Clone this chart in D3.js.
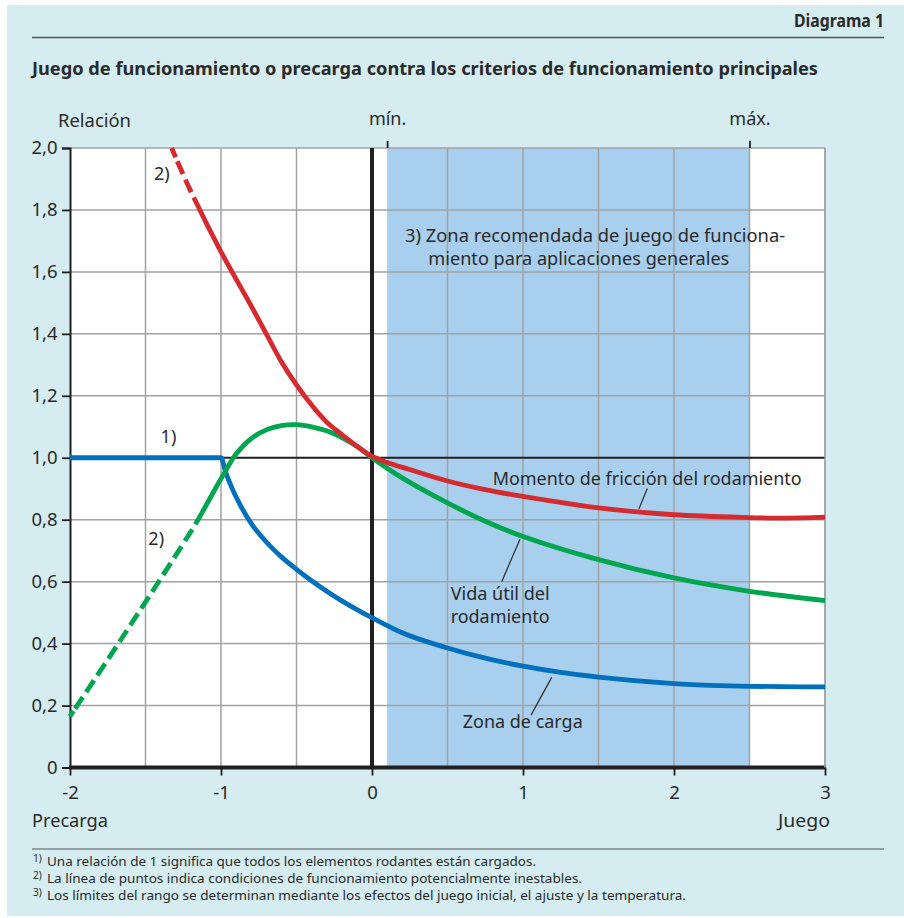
<!DOCTYPE html>
<html><head><meta charset="utf-8">
<script src="https://cdn.jsdelivr.net/npm/d3@7"></script>
<style>
body{margin:0;background:#fff}
svg{display:block}
text{font-family:"Noto Sans",sans-serif;fill:#2a2a2a}
</style>
</head><body><svg id="c" width="904" height="918"></svg>
<script>
// ---------- data ----------
const xTicks = [-2, -1, 0, 1, 2, 3];
const yTicks = [0, 0.2, 0.4, 0.6, 0.8, 1.0, 1.2, 1.4, 1.6, 1.8, 2.0];
const xGrid = [-1.5, -1, -0.5, 0.5, 1, 1.5, 2, 2.5, 3];
const yGrid = [0.2, 0.4, 0.6, 0.8, 1.2, 1.4, 1.6, 1.8, 2.0];
const rangeLimits = [0.1, 2.5];
const rangeLabels = ["mín.", "máx."];

// Momento de fricción del rodamiento (red)
const xFriction = [-1.327, -1.2, -1.0, -0.8, -0.7, -0.6, -0.5, -0.4, -0.3, -0.2, -0.1, 0, 0.1, 0.25, 0.5, 0.75, 1, 1.5, 2, 2.5, 2.75, 3];
const yFriction = [2.0, 1.86, 1.665, 1.49, 1.40, 1.31, 1.235, 1.17, 1.115, 1.075, 1.037, 1.005, 0.985, 0.962, 0.925, 0.897, 0.875, 0.838, 0.816, 0.807, 0.805, 0.808];
const frictionDashEnd = -1.18;

// Vida útil del rodamiento (green)
const xLife = [-2, -1.66, -1.17, -1.1, -1.0, -0.9, -0.8, -0.7, -0.6, -0.5, -0.4, -0.3, -0.2, -0.1, 0, 0.2, 0.5, 0.75, 1, 1.5, 2, 2.5, 3];
const yLife = [0.165, 0.415, 0.785, 0.845, 0.932, 1.012, 1.062, 1.09, 1.104, 1.107, 1.10, 1.087, 1.065, 1.037, 1.0, 0.935, 0.854, 0.795, 0.746, 0.671, 0.612, 0.569, 0.539];
const lifeDashEnd = -1.17;

// Zona de carga (blue)
const xLoad = [-2, -1.5, -1.0, -0.97, -0.93, -0.87, -0.8, -0.7, -0.6, -0.5, -0.4, -0.3, -0.2, -0.1, 0, 0.2, 0.5, 0.75, 1, 1.25, 1.5, 2, 2.5, 3];
const yLoad = [1, 1, 1, 0.955, 0.905, 0.845, 0.788, 0.728, 0.68, 0.64, 0.603, 0.569, 0.538, 0.51, 0.484, 0.435, 0.386, 0.353, 0.327, 0.307, 0.292, 0.271, 0.262, 0.26];

const headerText = "Diagrama 1";
const titleText = "Juego de funcionamiento o precarga contra los criterios de funcionamiento principales";
const yAxisTitle = "Relación";
const xLeftTitle = "Precarga";
const xRightTitle = "Juego";
const zoneLines = ["3) Zona recomendada de juego de funciona-", "miento para aplicaciones generales"];
const frictionLabel = "Momento de fricción del rodamiento";
const lifeLabel = ["Vida útil del", "rodamiento"];
const loadLabel = "Zona de carga";
const footnotes = [
  ["1)", "Una relación de 1 significa que todos los elementos rodantes están cargados."],
  ["2)", "La línea de puntos indica condiciones de funcionamiento potencialmente inestables."],
  ["3)", "Los límites del rango se determinan mediante los efectos del juego inicial, el ajuste y la temperatura."]
];

// ---------- layout ----------
const C = {bg:"#d5ecf1", zone:"#a8cfee", grid:"#a2a2a2", red:"#d42a30", green:"#00a550", blue:"#0070bd", ink:"#2a2a2a", axis:"#231f20"};
const svg = d3.select("#c");
const x = d3.scaleLinear().domain([-2, 3]).range([70, 825]);
const y = d3.scaleLinear().domain([0, 2]).range([767.5, 148]);

svg.append("rect").attr("x", 7).attr("y", 5).attr("width", 897).attr("height", 911).attr("fill", C.bg);

function txt(g, s, px, py, opt = {}) {
  const t = g.append("text").attr("x", px).attr("y", py).text(s)
    .attr("font-size", opt.size || 18)
    .attr("font-weight", opt.weight || "normal")
    .attr("text-anchor", opt.anchor || "start");
  if (opt.len) t.attr("textLength", opt.len).attr("lengthAdjust", "spacingAndGlyphs");
  return t;
}

// header
txt(svg, headerText, 884, 27, {size:17, weight:"bold", anchor:"end", len:90});
svg.append("line").attr("x1", 32).attr("x2", 884).attr("y1", 37.5).attr("y2", 37.5).attr("stroke", "#555").attr("stroke-width", 1.5);
txt(svg, titleText, 32, 75, {size:17, weight:"bold", len:786});

// plot background + zone
svg.append("rect").attr("x", x(-2)).attr("y", y(2)).attr("width", x(3) - x(-2)).attr("height", y(0) - y(2)).attr("fill", "#fff");
svg.append("rect").attr("x", x(rangeLimits[0])).attr("y", y(2)).attr("width", x(rangeLimits[1]) - x(rangeLimits[0])).attr("height", y(0) - y(2)).attr("fill", C.zone);

// grid
const grid = svg.append("g");
grid.selectAll(".vg").data(xGrid).join("line").attr("x1", d => x(d)).attr("x2", d => x(d)).attr("y1", y(0)).attr("y2", y(2)).attr("stroke", C.grid).attr("stroke-width", 1.5);
grid.selectAll(".hg").data(yGrid).join("line").attr("y1", d => y(d)).attr("y2", d => y(d)).attr("x1", x(-2)).attr("x2", x(3)).attr("stroke", C.grid).attr("stroke-width", 1.5);

// reference lines
svg.append("line").attr("x1", x(-2)).attr("x2", x(3)).attr("y1", y(1)).attr("y2", y(1)).attr("stroke", C.axis).attr("stroke-width", 1.8);
svg.append("line").attr("x1", x(0)).attr("x2", x(0)).attr("y1", y(0)).attr("y2", y(2)).attr("stroke", C.axis).attr("stroke-width", 4);

// axes
const fmt = d => d === 0 ? "0" : d3.format(".1f")(d).replace(".", ",");
const ya = svg.append("g").attr("transform", `translate(${x(-2)},0)`)
  .call(d3.axisLeft(y).tickValues(yTicks).tickFormat(fmt).tickSize(8).tickPadding(4.5));
ya.select(".domain").attr("stroke", C.axis).attr("stroke-width", 2);
ya.selectAll(".tick line").attr("stroke", C.axis).attr("stroke-width", 1.8);
ya.selectAll("text").attr("font-size", 18.5).attr("fill", C.ink).attr("font-family", '"Noto Sans",sans-serif');

const xa = svg.append("g").attr("transform", `translate(0,${y(0)})`)
  .call(d3.axisBottom(x).tickValues(xTicks).tickFormat(d => String(d)).tickSize(8).tickPadding(10));
xa.select(".domain").remove();
xa.selectAll(".tick line").attr("stroke", C.axis).attr("stroke-width", 1.8);
xa.selectAll("text").attr("font-size", 18.5).attr("fill", C.ink).attr("font-family", '"Noto Sans",sans-serif');
svg.append("line").attr("x1", x(-2) - 1).attr("x2", x(3) + 1).attr("y1", y(0)).attr("y2", y(0)).attr("stroke", C.axis).attr("stroke-width", 4);

const ta = svg.append("g").attr("transform", `translate(0,${y(2)})`)
  .call(d3.axisTop(x).tickValues(rangeLimits).tickFormat((d, i) => rangeLabels[i]).tickSize(7).tickPadding(16));
ta.select(".domain").remove();
ta.selectAll(".tick line").attr("stroke", C.axis).attr("stroke-width", 1.8);
ta.selectAll("text").attr("font-size", 18).attr("fill", C.ink).attr("font-family", '"Noto Sans",sans-serif');

// right border
svg.append("line").attr("x1", x(3)).attr("x2", x(3)).attr("y1", y(0)).attr("y2", y(2)).attr("stroke", C.grid).attr("stroke-width", 1.5);

// curves: one smooth path each; the leading part (x < dashEnd) is dashed via dasharray
function drawSeries(xs, ys, color, curve, dashEnd) {
  const line = d3.line().x(d => x(d[0])).y(d => y(d[1])).curve(curve);
  const pts = xs.map((v, i) => [v, ys[i]]);
  const path = svg.append("path").attr("d", line(pts)).attr("fill", "none")
    .attr("stroke", color).attr("stroke-width", 4.8).attr("stroke-linejoin", "round");
  if (dashEnd !== undefined) {
    const node = path.node(), total = node.getTotalLength(), px = x(dashEnd);
    let lo = 0, hi = total;
    for (let k = 0; k < 40; k++) { const m = (lo + hi) / 2; if (node.getPointAtLength(m).x < px) lo = m; else hi = m; }
    const L1 = lo, dash = 14, gap = 6;
    const n = Math.floor(L1 / (dash + gap)), r = L1 - n * (dash + gap);
    const arr = [];
    if (r > 0) arr.push(r * 0.7, r * 0.3); else arr.push(0, 0);
    for (let k = 0; k < n; k++) arr.push(dash, gap);
    arr.push(total - L1 + 10, 0);
    path.attr("stroke-dasharray", arr.join(","));
  }
}
drawSeries(xLoad, yLoad, C.blue, d3.curveMonotoneX);
drawSeries(xLife, yLife, C.green, d3.curveCatmullRom.alpha(0.5), lifeDashEnd);
drawSeries(xFriction, yFriction, C.red, d3.curveCatmullRom.alpha(0.5), frictionDashEnd);

// annotations
txt(svg, zoneLines[0], x(0.219), y(1.697), {size:18, len:380});
txt(svg, zoneLines[1], x(0.373), y(1.622), {size:18, len:301});
txt(svg, frictionLabel, x(0.799), y(0.912), {size:18, len:309});
txt(svg, lifeLabel[0], x(0.521), y(0.541), {size:18, len:99});
txt(svg, lifeLabel[1], x(0.521), y(0.467), {size:18, len:99});
txt(svg, loadLabel, x(0.601), y(0.127), {size:18, len:120});
txt(svg, "2)", x(-1.444), y(1.897), {size:18});
txt(svg, "1)", x(-1.40), y(1.049), {size:18});
txt(svg, "2)", x(-1.481), y(0.718), {size:18});

const leaders = [[1.823, 0.901, 1.768, 0.835], [0.859, 0.60, 0.98, 0.737], [1.053, 0.169, 1.19, 0.291]];
svg.selectAll(".ld").data(leaders).join("line")
  .attr("x1", d => x(d[0])).attr("y1", d => y(d[1])).attr("x2", d => x(d[2])).attr("y2", d => y(d[3]))
  .attr("stroke", C.ink).attr("stroke-width", 1.2);

// axis titles
txt(svg, yAxisTitle, 58, 127, {size:18, len:73});
txt(svg, xLeftTitle, 32, 827, {size:18, len:76});
txt(svg, xRightTitle, 830, 827, {size:18, anchor:"end", len:52});

// footnotes
svg.append("line").attr("x1", 32).attr("x2", 884).attr("y1", 849).attr("y2", 849).attr("stroke", "#555").attr("stroke-width", 1.2);
const fnLens = [489, 535, 639];
footnotes.forEach((f, i) => {
  const by = 865.5 + i * 17;
  txt(svg, f[0], 33, by - 4, {size:10});
  txt(svg, f[1], 47, by, {size:13, len:fnLens[i]});
});
</script></body></html>
